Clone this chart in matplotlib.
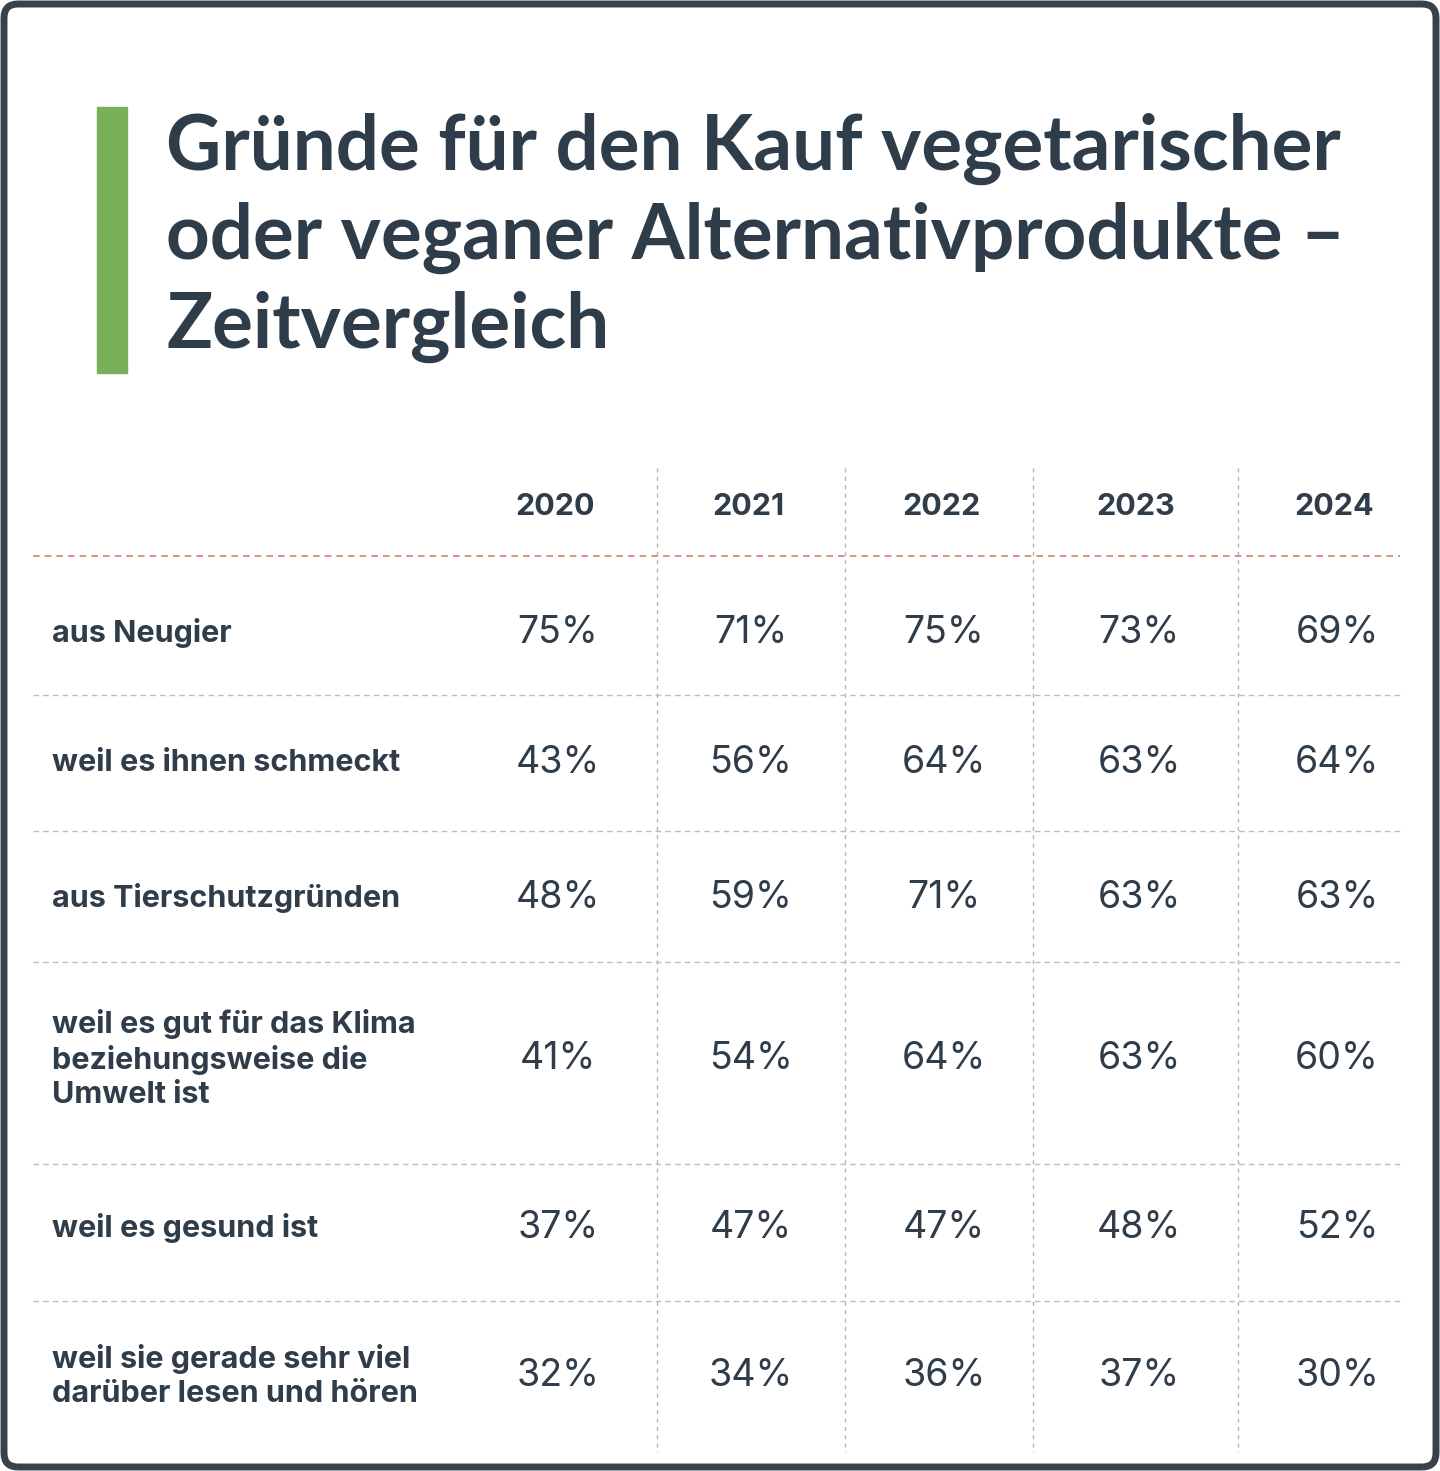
import matplotlib.pyplot as plt
from matplotlib.patches import FancyBboxPatch, Rectangle

W, H = 1440, 1471
years = ["2020", "2021", "2022", "2023", "2024"]
reasons = ["aus Neugier", "weil es ihnen schmeckt", "aus Tierschutzgründen",
           "weil es gut für das Klima\nbeziehungsweise die\nUmwelt ist",
           "weil es gesund ist",
           "weil sie gerade sehr viel\ndarüber lesen und hören"]
v2020 = [75, 43, 48, 41, 37, 32]
v2021 = [71, 56, 59, 54, 47, 34]
v2022 = [75, 64, 71, 64, 47, 36]
v2023 = [73, 63, 63, 63, 48, 37]
v2024 = [69, 64, 63, 60, 52, 30]
values = [v2020, v2021, v2022, v2023, v2024]

dark = "#2f3d4a"
fig = plt.figure(figsize=(14.4, 14.71), dpi=100)
ax = fig.add_axes([0, 0, 1, 1])
ax.set_xlim(0, W)
ax.set_ylim(H, 0)
ax.axis("off")

ax.add_patch(FancyBboxPatch((4, 4), W - 8, H - 8, boxstyle="round,pad=0,rounding_size=14",
                            fill=False, ec="#37424c", lw=5))
ax.add_patch(Rectangle((97, 107), 30, 266, color="#7aaf5a"))
title = "Gründe für den Kauf vegetarischer\noder veganer Alternativprodukte –\nZeitvergleich"
ax.text(166, 238, title, fontsize=55, fontweight="bold", color=dark, va="center",
        ha="left", family="Lato", linespacing=1.3)

col_x = [558, 751, 944, 1139, 1337]
vlines = [657, 845, 1033, 1238]
row_y = [633, 763, 898, 1059, 1228, 1376]
hlines = [695, 831, 962, 1164, 1301]

for x in vlines:
    ax.plot([x, x], [468, 1452], ls=(0, (3, 3)), color="#b5b5b5", lw=1)
ax.plot([33, 1400], [556, 556], ls=(0, (4, 3)), color="#e07b70", lw=1.2)
for y in hlines:
    ax.plot([33, 1400], [y, y], ls=(0, (4, 3)), color="#bdbdbd", lw=1)

for x, yr in zip(col_x, years):
    ax.text(x - 3, 507, yr, fontsize=22, fontweight="bold", color=dark, ha="center", va="center",
            family="Inter")
for y, r in zip(row_y, reasons):
    ax.text(52, y, r, fontsize=22, fontweight="bold", color=dark, ha="left", va="center",
            family="Inter", linespacing=1.25)
for x, col in zip(col_x, values):
    for y, v in zip(row_y, col):
        ax.text(x, y, f"{v}%", fontsize=27, color=dark, ha="center", va="center", family="Inter")

fig.savefig("out.png", dpi=100)
